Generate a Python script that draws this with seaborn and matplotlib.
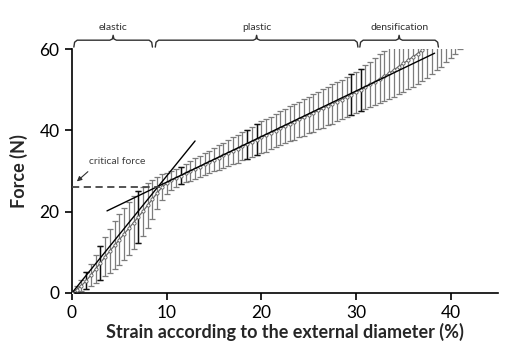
import numpy as np
import pandas as pd
import matplotlib
matplotlib.use("Agg")
import matplotlib.pyplot as plt
import seaborn as sns

# ---- data ----
strain = [0.0, 0.5, 1.0, 1.5, 2.0, 2.5, 3.0, 3.5, 4.0, 4.5, 5.0, 5.5, 6.0, 6.5, 7.0, 7.5,
          8.0, 8.5, 9.0, 9.5, 10.0, 10.5, 11.0, 11.5, 12.0, 12.5, 13.0, 13.5, 14.0, 14.5,
          15.0, 15.5, 16.0, 16.5, 17.0, 17.5, 18.0, 18.5, 19.0, 19.5, 20.0, 20.5, 21.0,
          21.5, 22.0, 22.5, 23.0, 23.5, 24.0, 24.5, 25.0, 25.5, 26.0, 26.5, 27.0, 27.5,
          28.0, 28.5, 29.0, 29.5, 30.0, 30.5, 31.0, 31.5, 32.0, 32.5, 33.0, 33.5, 34.0,
          34.5, 35.0, 35.5, 36.0, 36.5, 37.0, 37.5, 38.0, 38.5, 39.0, 39.5, 40.0, 40.5, 41.0]
force_mean = [0.0, 0.8, 1.8, 3.0, 4.4, 5.9, 7.4, 8.9, 10.3, 11.7, 13.1, 14.5, 15.9, 17.3,
              18.7, 20.1, 21.6, 23.1, 24.6, 26.0, 27.0, 27.7, 28.3, 28.9, 29.5, 30.0, 30.6,
              31.1, 31.7, 32.2, 32.8, 33.3, 33.9, 34.4, 35.0, 35.5, 36.1, 36.6, 37.2, 37.7,
              38.3, 38.8, 39.4, 39.9, 40.5, 41.0, 41.6, 42.1, 42.7, 43.2, 43.8, 44.3, 44.9,
              45.4, 46.0, 46.5, 47.1, 47.6, 48.2, 48.8, 49.4, 50.0, 50.6, 51.3, 52.0, 52.7,
              53.4, 54.1, 54.9, 55.7, 56.5, 57.3, 58.1, 58.9, 59.7, 60.6, 61.6, 62.6, 63.6,
              64.7, 65.8, 66.9, 68.0]
force_sd = [0.3, 0.8, 1.4, 2.1, 2.8, 3.5, 4.2, 4.8, 5.4, 5.9, 6.3, 6.5, 6.6, 6.5, 6.3, 6.0,
            5.5, 4.8, 4.0, 3.2, 2.6, 2.3, 2.2, 2.2, 2.3, 2.4, 2.5, 2.6, 2.7, 2.8, 2.9, 3.0,
            3.1, 3.2, 3.3, 3.4, 3.5, 3.6, 3.7, 3.8, 3.9, 4.0, 4.0, 4.1, 4.2, 4.2, 4.3, 4.4,
            4.4, 4.5, 4.5, 4.6, 4.6, 4.7, 4.7, 4.8, 4.8, 4.9, 4.9, 5.0, 5.0, 5.2, 5.4, 5.6,
            5.8, 6.0, 6.2, 6.4, 6.6, 6.8, 7.0, 7.2, 7.4, 7.5, 7.6, 7.7, 7.8, 7.8, 7.9, 7.9,
            8.0, 8.0, 8.0]
highlight_strain = [1.5, 3.0, 7.0, 11.5, 18.5, 19.5, 29.5, 30.5]

elastic_tangent_x = [0.1, 13.0]
elastic_tangent_y = [0.3, 37.4]
plastic_tangent_x = [3.7, 38.3]
plastic_tangent_y = [20.2, 59.0]
critical_force = 26.1
critical_strain = 9.3

regions = ["elastic", "plastic", "densification"]
region_start = [0.2, 8.8, 30.4]
region_end = [8.5, 30.2, 38.7]

xticks = [0, 10, 20, 30, 40]
yticks = [0, 20, 40, 60]

df = pd.DataFrame({"strain": strain, "force": force_mean, "sd": force_sd})

# ---- style ----
sns.set_theme(style="ticks")
plt.rcParams["font.family"] = ["Lato", "DejaVu Sans"]

fig = plt.figure(figsize=(5.14, 3.56), dpi=100)
ax = fig.add_axes([0.140, 0.177, 0.829, 0.685])

# error bars (grey), clipped at axes
ax.errorbar(df["strain"], df["force"], yerr=df["sd"], fmt="none",
            ecolor="#7c7c7c", elinewidth=0.9, capsize=2.2, capthick=0.9, zorder=1)
hl = df[df["strain"].isin(highlight_strain)]
ax.errorbar(hl["strain"], hl["force"], yerr=hl["sd"], fmt="none",
            ecolor="#111111", elinewidth=1.0, capsize=2.2, capthick=1.0, zorder=2)

# mean curve (grey with open circles)
sns.lineplot(data=df, x="strain", y="force", ax=ax, color="#6a6a6a", linewidth=0.9,
             marker="o", markersize=2.3, markerfacecolor="white",
             markeredgecolor="#5a5a5a", markeredgewidth=0.6, zorder=3)

# tangent lines
ax.plot(elastic_tangent_x, elastic_tangent_y, color="black", linewidth=1.0, zorder=4)
ax.plot(plastic_tangent_x, plastic_tangent_y, color="black", linewidth=1.0, zorder=4)

# critical force dashed line
ax.plot([0, critical_strain], [critical_force, critical_force], color="#454545",
        linewidth=1.3, linestyle=(0, (4, 2.5)), zorder=4)
ax.annotate("", xy=(0.3, 27.0), xytext=(1.9, 30.3),
            arrowprops=dict(arrowstyle="-|>", color="#303030", lw=0.8,
                            mutation_scale=7))
ax.text(1.8, 32.3, "critical force", fontsize=7.5, color="#404040",
        ha="left", va="center")

# region brackets above axes
for name, x0, x1 in zip(regions, region_start, region_end):
    xc = (x0 + x1) / 2
    bx = [x0, x0 + 0.08, x0 + 0.35, xc - 0.35, xc - 0.08, xc, xc + 0.08,
          xc + 0.35, x1 - 0.35, x1 - 0.08, x1]
    by = [60.5, 61.7, 62.2, 62.2, 62.5, 63.4, 62.5, 62.2, 62.2, 61.7, 60.5]
    ax.plot(bx, by, color="#303030", linewidth=1.0, clip_on=False)
    ax.text(xc, 64.2, name, fontsize=7.5, color="#303030", ha="center", va="bottom")

ax.set_xlim(0, 45)
ax.set_ylim(0, 60)
ax.set_xticks(xticks)
ax.set_yticks(yticks)
ax.tick_params(axis="both", direction="out", length=5, width=1.2, labelsize=12.5,
               colors="black", pad=4)
for s in ["left", "bottom"]:
    ax.spines[s].set_linewidth(1.2)
    ax.spines[s].set_color("black")
sns.despine(ax=ax)
ax.set_xlabel("Strain according to the external diameter (%)", fontsize=13,
              fontweight="bold", labelpad=1)
ax.set_ylabel("Force (N)", fontsize=13, fontweight="bold", labelpad=8)

fig.savefig("out.png", dpi=100)
